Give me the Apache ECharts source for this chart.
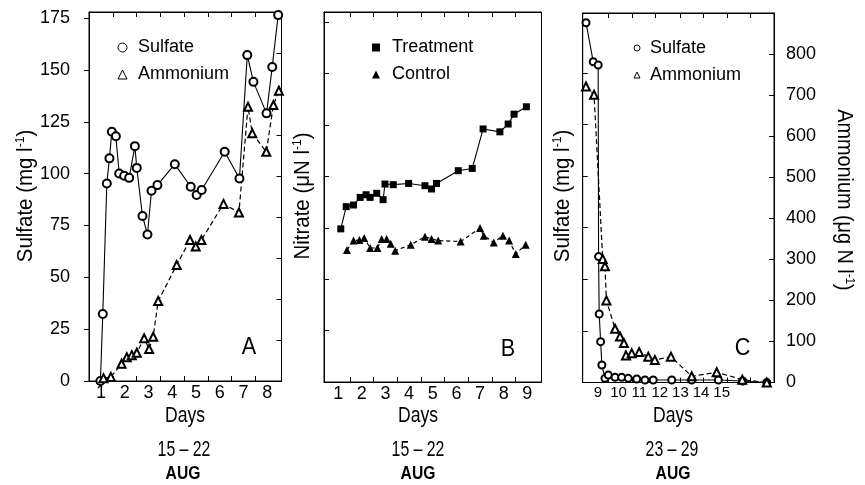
<!DOCTYPE html>
<html><head><meta charset="utf-8">
<script src="https://cdn.jsdelivr.net/npm/echarts@6/dist/echarts.min.js"></script>
<style>html,body{margin:0;padding:0;background:#fff}#c{width:865px;height:485px}</style>
</head><body><div id="c"></div>
<script>
// ---------- Panel A (15–22 Aug) ----------
const daysSulfateA = [0.98,1.08,1.25,1.36,1.46,1.63,1.77,1.98,2.19,2.43,2.51,2.75,2.96,3.13,3.38,4.11,4.78,5.03,5.24,6.21,6.83,7.16,7.42,7.97,8.21,8.46];
const sulfateA     = [0,32.3,95.3,107.4,120.2,118.1,100.1,99,98,113.3,102.8,79.6,70.7,91.8,94.5,104.6,93.7,89.7,92.1,110.6,97.7,157.2,144.3,129.1,151.5,176.5];
const daysAmmoniumA = [1.11,1.42,1.87,2.09,2.30,2.51,2.82,3.03,3.20,3.41,4.19,4.75,4.99,5.23,6.16,6.81,7.19,7.37,7.96,8.26,8.49];
const ammoniumA     = [7,10,42,58,63,69,104,78,108,195,283,344,328,344,432,411,669,604,559,673,708];
// ---------- Panel B (15–22 Aug) ----------
const daysTreatmentB = [1.11,1.34,1.65,1.93,2.18,2.35,2.63,2.90,2.98,3.33,3.98,4.67,4.95,5.16,6.08,6.67,7.13,7.84,8.19,8.44,8.96];
const treatmentB     = [74.5,85.3,86.1,89.8,91.1,89.8,91.8,88.7,96.3,96.0,96.6,95.5,93.9,96.6,102.8,103.9,123.1,121.7,125.5,130.3,133.9];
const daysControlB = [1.37,1.65,1.90,2.10,2.35,2.66,2.84,3.05,3.22,3.41,4.07,4.67,4.95,5.23,6.18,7.00,7.16,7.58,7.97,8.23,8.51,8.93];
const controlB     = [64.2,68.8,69.1,70.1,65.2,65.2,69.6,69.6,67.2,63.9,66.8,70.7,69.6,68.8,68.3,74.9,71.2,67.9,71.2,68.8,62.3,66.8];
// ---------- Panel C (23–29 Aug) ----------
const daysSulfateC = [8.42,8.77,9.01,9.03,9.06,9.13,9.19,9.34,9.50,9.83,10.15,10.47,10.88,11.28,11.68,12.58,13.55,14.84,16.02,17.19];
const sulfateC     = [174.3,155.4,153.8,61,33.2,19.8,8.5,2.0,3.6,2.5,2.5,2.0,1.7,1.2,1.2,1.2,1.2,1.2,0.7,0];
const daysAmmoniumC = [8.42,8.81,9.23,9.34,9.41,9.83,10.07,10.26,10.36,10.64,11.0,11.44,11.76,12.54,13.55,14.76,16.0,17.19];
const ammoniumC     = [721,701,301,283,200,131,112,96,66,71,74,63,55,63,15,25,7,0];
// ---------- ticks / labels ----------
const xLabelsA = [1,2,3,4,5,6,7,8];
const xTicksA  = [1.5,2.5,3.5,4.5,5.5,6.5,7.5];
const xLabelsB = [1,2,3,4,5,6,7,8,9];
const xTicksB  = [1.5,2.5,3.5,4.5,5.5,6.5,7.5,8.5];
const xLabelsC = [9,10,11,12,13,14,15];
const xTicksC  = [9.5,10.64,11.77,12.98,14.11,15.25,16.38];
const ySulfateTicks = [0,25,50,75,100,125,150,175];
const yAmmoniumTicks = [0,100,200,300,400,500,600,700,800];
const yAmmoniumLabels = [0,100,200,300,400,500,600,700,800];
const dateLabels = ['15 \u2013 22','15 \u2013 22','23 \u2013 29'];

const FONT = '"Liberation Sans",Arial,Helvetica,sans-serif';
const zip = (xs, ys) => xs.map((x, i) => [x, ys[i]]);

function xAx(gi, min, max, ticks, labels, pos, fs) {
  return {
    type: 'value', gridIndex: gi, position: pos, min: min, max: max,
    axisLine: {show: true, onZero: false, lineStyle: {color: '#000', width: 1}},
    axisTick: {show: true, inside: true, length: 5, customValues: ticks, lineStyle: {color: '#000'}},
    axisLabel: labels ? {show: true, customValues: labels, margin: 3, color: '#000', fontFamily: FONT, fontSize: fs || 18, hideOverlap: false} : {show: false},
    splitLine: {show: false}
  };
}
function yAx(gi, min, max, ticks, labels, pos, inside, margin) {
  return {
    type: 'value', gridIndex: gi, position: pos, min: min, max: max,
    axisLine: {show: true, onZero: false, lineStyle: {color: '#000', width: 1}},
    axisTick: {show: true, inside: inside, length: 5, customValues: ticks, lineStyle: {color: '#000'}},
    axisLabel: labels ? {show: true, customValues: labels, margin: margin, color: '#000', fontFamily: FONT, fontSize: 18} : {show: false},
    splitLine: {show: false}
  };
}
function legendFor(left, top, items, s, pad) {
  return {
    left: left, top: top, orient: 'vertical', padding: 0, itemGap: 5,
    itemWidth: s, itemHeight: s, symbolKeepAspect: true, selectedMode: false,
    textStyle: {color: '#000', fontFamily: FONT, fontSize: 18, lineHeight: 22, padding: [0, 0, 0, pad]},
    data: items
  };
}
const hollow = {color: '#fff', borderColor: '#000', borderWidth: 1};
const filled = {color: '#000', borderColor: '#000', borderWidth: 0};

function txt(x, y, text, size, opts) {
  opts = opts || {};
  return {
    type: 'text', x: x, y: y, rotation: opts.rot || 0, scaleX: opts.sx || 1, silent: true,
    style: {
      text: text, fill: '#000',
      font: (opts.bold ? 'bold ' : '') + size + 'px ' + FONT,
      align: 'center', verticalAlign: 'middle', textAlign: 'center', textVerticalAlign: 'middle',
      rich: opts.rich
    }
  };
}
const supRich = {
  t: {fontFamily: FONT, fontSize: 22, lineHeight: 24, fill: '#000'},
  s: {fontFamily: FONT, fontSize: 13, lineHeight: 13, verticalAlign: 'top', fill: '#000'}
};

const option = {
  animation: false,
  backgroundColor: '#fff',
  grid: [
    {left: 89, top: 12, width: 192.5, height: 369, show: true, borderColor: '#000', borderWidth: 1, outerBoundsMode: 'none'},
    {left: 324, top: 12, width: 217.5, height: 370, show: true, borderColor: '#000', borderWidth: 1, outerBoundsMode: 'none'},
    {left: 582.7, top: 13, width: 191.3, height: 369.5, show: true, borderColor: '#000', borderWidth: 1, outerBoundsMode: 'none'}
  ],
  xAxis: [
    xAx(0, 0.5, 8.6, xTicksA, xLabelsA, 'bottom'),
    xAx(0, 0.5, 8.6, xTicksA, null, 'top'),
    xAx(1, 0.4, 9.6, xTicksB, xLabelsB, 'bottom'),
    xAx(1, 0.4, 9.6, xTicksB, null, 'top'),
    xAx(2, 8.26, 17.54, xTicksC, xLabelsC, 'bottom', 15),
    xAx(2, 8.26, 17.54, xTicksC, null, 'top')
  ],
  yAxis: [
    yAx(0, 0, 178, ySulfateTicks, ySulfateTicks, 'left', false, 19),
    yAx(0, 0, 900, yAmmoniumTicks, null, 'right', true, 0),
    yAx(1, 0, 180, ySulfateTicks, null, 'left', true, 0),
    yAx(2, 0, 179, ySulfateTicks, null, 'left', true, 0),
    yAx(2, 0, 900, yAmmoniumTicks, yAmmoniumLabels, 'right', true, 12)
  ],
  legend: [
    legendFor(117.5, 36.5, [
      {name: 'Sulfate', icon: 'circle', itemStyle: hollow},
      {name: 'Ammonium', icon: 'triangle', itemStyle: hollow}], 9, 6),
    legendFor(372, 36.5, [
      {name: 'Treatment', icon: 'rect', itemStyle: filled},
      {name: 'Control', icon: 'triangle', itemStyle: filled}], 8, 7),
    legendFor(633.5, 37, [
      {name: 'Sulfate', icon: 'circle', itemStyle: hollow},
      {name: 'Ammonium', icon: 'triangle', itemStyle: hollow}], 6, 5)
  ],
  series: [
    {type: 'line', name: 'Sulfate', xAxisIndex: 0, yAxisIndex: 0, data: zip(daysSulfateA, sulfateA),
     symbol: 'emptyCircle', symbolSize: 8, clip: false,
     lineStyle: {color: '#000', width: 1.1}, itemStyle: {color: '#000', borderWidth: 1}},
    {type: 'line', name: 'Ammonium', xAxisIndex: 0, yAxisIndex: 1, data: zip(daysAmmoniumA, ammoniumA),
     symbol: 'emptyTriangle', symbolSize: 8, clip: false,
     lineStyle: {color: '#000', width: 1.2, type: [5, 3]}, itemStyle: {color: '#000', borderWidth: 1}},
    {type: 'line', name: 'Treatment', xAxisIndex: 2, yAxisIndex: 2, data: zip(daysTreatmentB, treatmentB),
     symbol: 'rect', symbolSize: 7, clip: false,
     lineStyle: {color: '#000', width: 1.1}, itemStyle: {color: '#000'}},
    {type: 'line', name: 'Control', xAxisIndex: 2, yAxisIndex: 2, data: zip(daysControlB, controlB),
     symbol: 'triangle', symbolSize: 8, clip: false,
     lineStyle: {color: '#000', width: 1.2, type: [4, 3]}, itemStyle: {color: '#000'}},
    {type: 'line', name: 'Sulfate', xAxisIndex: 4, yAxisIndex: 3, data: zip(daysSulfateC, sulfateC),
     symbol: 'emptyCircle', symbolSize: 7, clip: false,
     lineStyle: {color: '#000', width: 1.1}, itemStyle: {color: '#000', borderWidth: 1}},
    {type: 'line', name: 'Ammonium', xAxisIndex: 4, yAxisIndex: 4, data: zip(daysAmmoniumC, ammoniumC),
     symbol: 'emptyTriangle', symbolSize: 8, clip: false,
     lineStyle: {color: '#000', width: 1.2, type: [5, 3]}, itemStyle: {color: '#000', borderWidth: 1}}
  ],
  graphic: [
    txt(26, 196, '{t|Sulfate (mg l}{s|-1}{t|)}', 22, {rot: Math.PI / 2, rich: supRich, sx: 0.93}),
    txt(303, 196, '{t|Nitrate (\u03bcN l}{s|-1}{t|)}', 22, {rot: Math.PI / 2, rich: supRich, sx: 0.93}),
    txt(563, 196, '{t|Sulfate (mg l}{s|-1}{t|)}', 22, {rot: Math.PI / 2, rich: supRich, sx: 0.93}),
    txt(844, 200, '{t|Ammonium (\u03bcg N l}{s|-1}{t|)}', 22, {rot: -Math.PI / 2, rich: supRich, sx: 0.9}),
    txt(249, 347, 'A', 24, {sx: 0.9}), txt(508, 349, 'B', 24, {sx: 0.9}), txt(742.5, 348, 'C', 24, {sx: 0.9}),
    txt(185, 416, 'Days', 22, {sx: 0.8}), txt(418, 416, 'Days', 22, {sx: 0.8}), txt(673, 416, 'Days', 22, {sx: 0.8}),
    txt(184, 450, dateLabels[0], 22, {sx: 0.72}), txt(418, 450, dateLabels[1], 22, {sx: 0.72}), txt(672, 450, dateLabels[2], 22, {sx: 0.72}),
    txt(183, 474, 'AUG', 18, {bold: true, sx: 0.87}), txt(418, 474, 'AUG', 18, {bold: true, sx: 0.87}), txt(673, 474, 'AUG', 18, {bold: true, sx: 0.87})
  ]
};
const chart = echarts.init(document.getElementById('c'), null, {renderer: 'canvas'});
chart.setOption(option);
</script></body></html>
